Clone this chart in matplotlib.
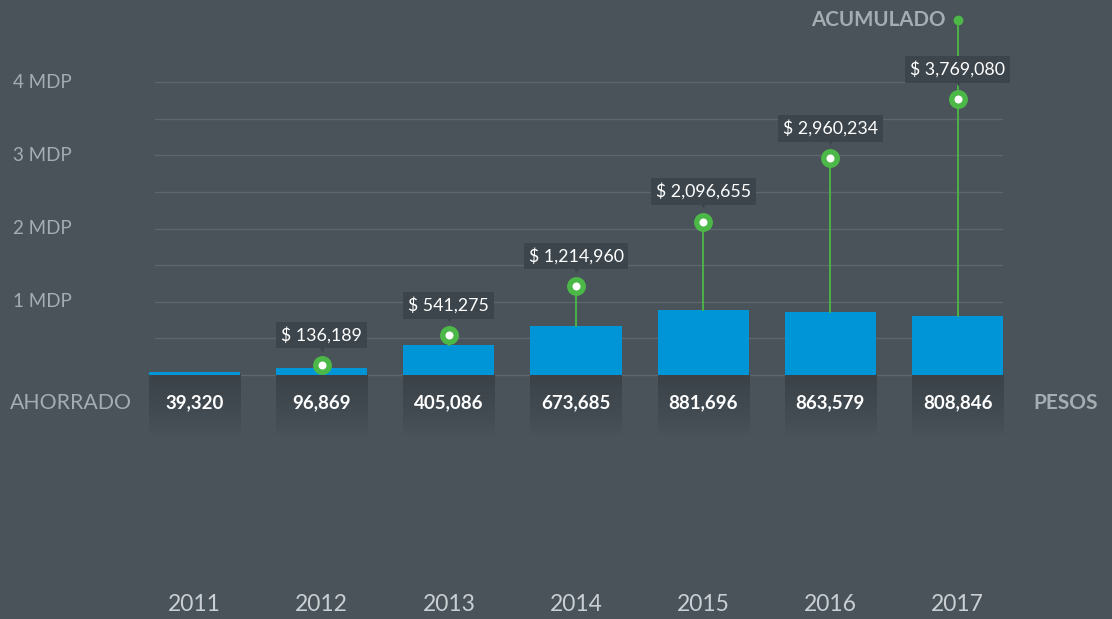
import matplotlib.pyplot as plt
import numpy as np
from matplotlib.colors import to_rgb

plt.rcParams['font.family'] = ['Lato', 'DejaVu Sans']

years = ['2011', '2012', '2013', '2014', '2015', '2016', '2017']
ahorrado = [39320, 96869, 405086, 673685, 881696, 863579, 808846]
acumulado = [None, 136189, 541275, 1214960, 2096655, 2960234, 3769080]
yticks = [1, 2, 3, 4]
ytick_labels = ['1 MDP', '2 MDP', '3 MDP', '4 MDP']

BG = '#4a535a'
BLUE = '#0095d6'
GREEN = '#4cb848'
BOX = '#3c454b'
GRAY = '#a3adb2'
GRID = '#5b666e'

fig = plt.figure(figsize=(11.12, 6.19), dpi=100, facecolor=BG)
ax = fig.add_axes([0, 0, 1, 1])
ax.set_facecolor(BG)
ax.axis('off')

x = np.arange(len(years))
acc_top = 4.85  # level of the ACUMULADO label

# grid lines
for g in np.arange(0, 4.01, 0.5):
    ax.plot([-0.31, 6.35], [g, g], color=GRID, lw=1, zorder=1)

# y labels
for v, lab in zip(yticks, ytick_labels):
    ax.text(-1.427, v, lab, color=GRAY, fontsize=13.5, va='center', ha='left')

# dark fading boxes under the bars
bg_rgb = to_rgb(BG)
box_rgb = to_rgb('#3b4349')
n = 100
t = np.linspace(0, 1, n)
w = (1 - t) ** 0.7
grad = np.zeros((n, 1, 3))
for c in range(3):
    grad[:, 0, c] = box_rgb[c] * w + bg_rgb[c] * (1 - w)
bw = 0.716
for i in x:
    ax.imshow(grad, extent=[i - bw / 2, i + bw / 2, -0.82, 0], aspect='auto',
              zorder=2, interpolation='bilinear')

# bars
vals_m = np.array(ahorrado) / 1e6
ax.bar(x, vals_m, width=bw, color=BLUE, zorder=3)
# pixel layout: bar centres 127.17px apart starting at 194.5, 1M = 73.2px, zero at y=375
ax.set_xlim(-194.5 / 127.17, (1112 - 194.5) / 127.17)
ax.set_ylim(-(619 - 375) / 73.2, 375 / 73.2)

for i, v in enumerate(ahorrado):
    ax.text(i, -0.383, f'{v:,}', color='white', fontsize=13.5, fontweight='bold',
            ha='center', va='center', zorder=5)
    ax.text(i, -3.14, years[i], color='#c9cfd3', fontsize=16.5, fontweight='normal',
            ha='center', va='center')

# accumulated lines and points
for i, a in enumerate(acumulado):
    if a is None:
        continue
    am = a / 1e6
    top = acc_top if i == len(years) - 1 else am
    ax.plot([i, i], [vals_m[i], top], color=GREEN, lw=1.3, zorder=4)
    ax.plot(i, am, 'o', ms=9.7, mfc='white', mec=GREEN, mew=3.9, zorder=6)
    ax.text(i, am + 0.41, f'$ {a:,}', color='white', fontsize=12.8, ha='center',
            va='center', zorder=7,
            bbox=dict(boxstyle='square,pad=0.28', fc=BOX, ec='none'))
    ax.plot(i, am + 0.22, 'v', ms=5, color=BOX, mec='none', zorder=7)

ax.plot(len(years) - 1, acc_top, 'o', ms=6, color=GREEN, zorder=6)
ax.text(len(years) - 1 - 0.095, acc_top, 'ACUMULADO', color=GRAY, fontsize=14.8,
        fontweight='bold', ha='right', va='center')
ax.text(-1.45, -0.383, 'AHORRADO', color=GRAY, fontsize=15.3, ha='left', va='center')
ax.text(6.594, -0.383, 'PESOS', color=GRAY, fontsize=15, fontweight='bold',
        ha='left', va='center')

fig.savefig('out.png', dpi=100, facecolor=BG)
